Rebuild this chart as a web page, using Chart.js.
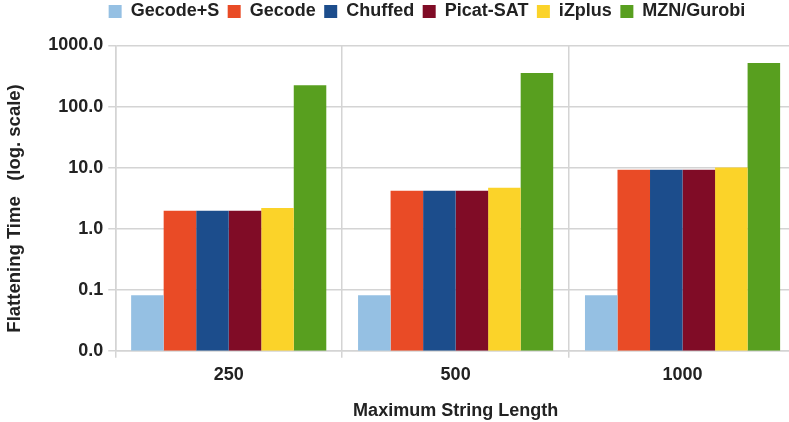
<!DOCTYPE html>
<html>
<head>
<meta charset="utf-8">
<script src="https://cdn.jsdelivr.net/npm/chart.js@4"></script>
<style>
  html, body { margin: 0; padding: 0; background: #fff; overflow: hidden; }
  #wrap { width: 796px; height: 422px; }
</style>
</head>
<body>
<div id="wrap"><canvas id="grafico"></canvas></div>
<script>
const longitudes = ['250', '500', '1000'];
const gecodeS = [0.081, 0.081, 0.081];
const gecode = [1.96, 4.18, 9.27];
const chuffed = [1.96, 4.18, 9.27];
const picatSat = [1.96, 4.18, 9.27];
const izplus = [2.19, 4.68, 10.0];
const gurobi = [224, 354, 517];
const marcasY = [0.01, 0.1, 1, 10, 100, 1000];

const fuente = 'Liberation Sans, Arial, sans-serif';
const colorTexto = '#222222';
const colorRejilla = '#d4d4d4';

function serie(nombre, datos, color) {
    return { label: nombre, data: datos, backgroundColor: color, borderWidth: 0 };
}

// Leyenda un poco más alta y desplazada a la derecha
const ajusteLeyenda = {
    id: 'ajusteLeyenda',
    beforeLayout(chart) {
        const leyenda = chart.legend;
        if (leyenda && !leyenda._parcheado) {
            const fitOriginal = leyenda.fit;
            leyenda.fit = function () {
                fitOriginal.call(this);
                this.height += 15;
            };
            leyenda._parcheado = true;
        }
    },
    afterLayout(chart) {
        chart.legend.left += 27;
        chart.legend.right += 27;
    }
};

const ctx = document.getElementById('grafico').getContext('2d');
const grafico = new Chart(ctx, {
    type: 'bar',
    data: {
        labels: longitudes,
        datasets: [
            serie('Gecode+S', gecodeS, '#95c0e3'),
            serie('Gecode', gecode, '#e94b26'),
            serie('Chuffed', chuffed, '#1c4d8c'),
            serie('Picat-SAT', picatSat, '#800c26'),
            serie('iZplus', izplus, '#fbd329'),
            serie('MZN/Gurobi', gurobi, '#589f1f')
        ]
    },
    options: {
        responsive: true,
        maintainAspectRatio: false,
        animation: false,
        layout: { padding: { left: 4, right: 0, top: -6, bottom: 0 } },
        datasets: { bar: { categoryPercentage: 0.86, barPercentage: 1.0 } },
        plugins: {
            tooltip: { enabled: false },
            legend: {
                position: 'top',
                align: 'center',
                labels: {
                    boxWidth: 13,
                    boxHeight: 13,
                    padding: 8.5,
                    color: colorTexto,
                    font: { family: fuente, size: 18, weight: 'bold' }
                }
            }
        },
        scales: {
            x: {
                offset: true,
                grid: { color: colorRejilla, lineWidth: 1.5, offset: true, tickLength: 7 },
                border: { color: colorRejilla, width: 1.5 },
                ticks: { color: colorTexto, padding: 6, font: { family: fuente, size: 18, weight: 'bold' } },
                title: {
                    display: true,
                    text: 'Maximum String Length',
                    color: colorTexto,
                    padding: { top: 9, bottom: 0 },
                    font: { family: fuente, size: 18, weight: 'bold' }
                }
            },
            y: {
                type: 'logarithmic',
                min: 0.01,
                max: 1000,
                afterBuildTicks: eje => { eje.ticks = marcasY.map(v => ({ value: v })); },
                grid: { color: colorRejilla, lineWidth: 1.5, tickLength: 7 },
                border: { color: colorRejilla, width: 1.5 },
                ticks: {
                    color: colorTexto,
                    padding: 5,
                    font: { family: fuente, size: 18, weight: 'bold' },
                    callback: v => Number(v).toFixed(1)
                },
                title: {
                    display: true,
                    text: 'Flattening Time   (log. scale)    ',
                    color: colorTexto,
                    padding: { top: 0, bottom: 17 },
                    font: { family: fuente, size: 18.5, weight: 'bold' }
                }
            }
        }
    },
    plugins: [ajusteLeyenda]
});
</script>
</body>
</html>
